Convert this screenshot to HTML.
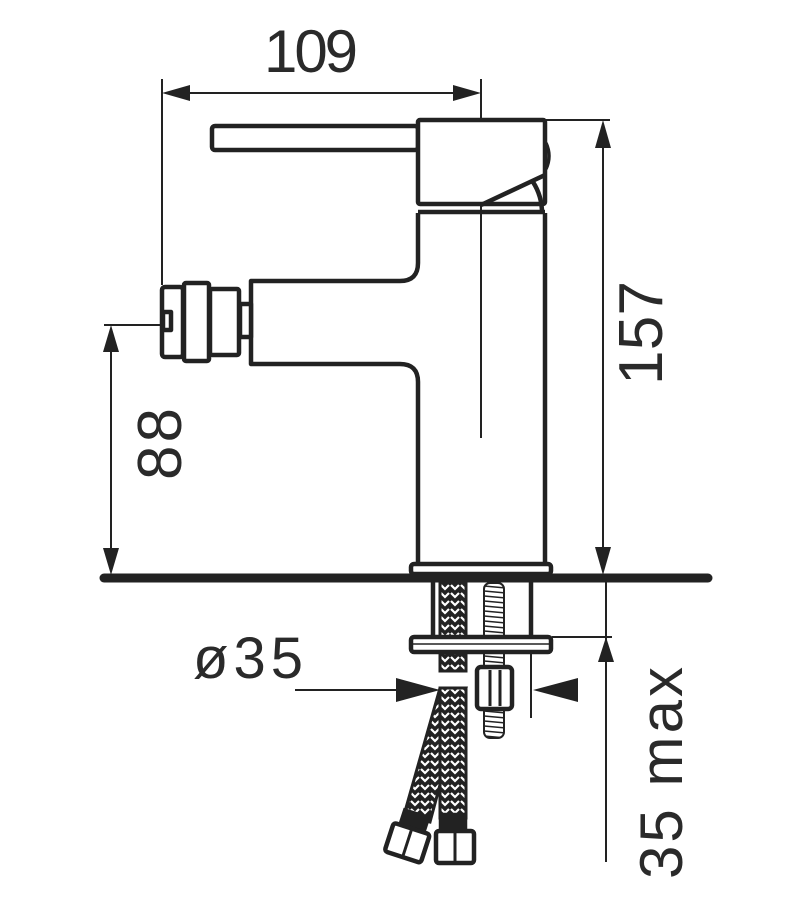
<!DOCTYPE html>
<html><head><meta charset="utf-8"><style>
html,body{margin:0;padding:0;background:#fff;}
svg{display:block;}
text{font-family:"Liberation Sans",sans-serif;fill:#2a2a2a;}
</style></head><body>
<svg width="812" height="904" viewBox="0 0 812 904" xmlns="http://www.w3.org/2000/svg">
<defs>
<pattern id="braid" width="10" height="8" patternUnits="userSpaceOnUse">
<rect width="10" height="8" fill="#222"/>
<path d="M1 1 L5 5 L9 1" stroke="#fff" stroke-width="2.2" fill="none"/>
</pattern>
<pattern id="thread" width="22" height="5" patternUnits="userSpaceOnUse">
<rect width="22" height="5" fill="#fff"/>
<path d="M0 1 L22 3" stroke="#222" stroke-width="1.6"/>
</pattern>
</defs>
<g stroke="#222" fill="none" stroke-width="2">
<line x1="162" y1="79" x2="162" y2="285"/>
<line x1="481" y1="79" x2="481" y2="438"/>
<line x1="170" y1="93" x2="472" y2="93"/>
<line x1="104" y1="325" x2="162" y2="325"/>
<line x1="111" y1="340" x2="111" y2="560"/>
<line x1="545" y1="120" x2="610" y2="120"/>
<line x1="603" y1="135" x2="603" y2="562"/>
<line x1="552" y1="637" x2="612" y2="637"/>
<line x1="606" y1="582" x2="606" y2="640"/>
<line x1="606" y1="660" x2="606" y2="862"/>
<line x1="295" y1="690" x2="410" y2="690"/>
<line x1="531" y1="590" x2="531" y2="718"/>
</g>
<g fill="#222">
<polygon points="162,93 190,85 190,101"/>
<polygon points="481,93 453,85 453,101"/>
<polygon points="111,325 103,352 119,352"/>
<polygon points="111,575 103,548 119,548"/>
<polygon points="603,120 595,148 611,148"/>
<polygon points="603,575 595,547 611,547"/>
<polygon points="606,637 598,662 614,662"/>
<polygon points="440,690 396,678 396,702"/>
<polygon points="533,690 578,678 578,702"/>
</g>
<g stroke="#222" fill="#fff" stroke-width="4.5" stroke-linejoin="round">
<rect x="212" y="126" width="206" height="24" rx="3"/>
<rect x="418" y="120" width="127" height="84" rx="2"/>
<path d="M546 143 Q552 156 546 169" fill="none" stroke-width="3.5"/>
<path d="M481 205 L545 175" fill="none"/>
<path d="M533 182 Q542 196 542 213" fill="none"/>
<line x1="418" y1="212" x2="545" y2="212"/>
<path d="M418 213 L418 263 Q418 281 400 281 L251 281 L251 364 L400 364 Q418 364 418 382 L418 562" fill="none"/>
<line x1="545" y1="213" x2="545" y2="562"/>
<rect x="240" y="304" width="11" height="33"/>
<rect x="210" y="289" width="29" height="66" rx="2"/>
<rect x="184" y="283" width="25" height="78" rx="2"/>
<rect x="162" y="287" width="21" height="70" rx="3"/>
<rect x="163" y="312" width="8" height="18"/>
<rect x="411" y="564" width="140" height="10" rx="3"/>
</g>
<line x1="104" y1="578" x2="708" y2="578" stroke="#222" stroke-width="9" stroke-linecap="round"/>
<g stroke="#222" stroke-width="4.5" fill="#fff">
<line x1="433" y1="582" x2="433" y2="637" />
<line x1="531" y1="582" x2="531" y2="637"/>
<rect x="484" y="583" width="20" height="155" rx="6" fill="url(#thread)" stroke-width="2"/>
<rect x="440" y="583" width="26" height="88" fill="url(#braid)" stroke-width="3"/>
<path d="M440 688 L466 688 L430 822 L404 815 Z" fill="url(#braid)" stroke-width="3"/>
<rect x="440" y="688" width="26" height="130" fill="url(#braid)" stroke-width="3"/>
<rect x="411" y="637" width="140" height="15" rx="3"/>
<line x1="413" y1="644" x2="549" y2="644" stroke-width="1.5"/>
<rect x="477" y="667" width="35" height="42" rx="4"/>
<line x1="490" y1="670" x2="490" y2="706" stroke-width="3"/>
<line x1="500" y1="670" x2="500" y2="706" stroke-width="3"/>
<rect x="441" y="815" width="24" height="15" fill="#222"/>
<rect x="436" y="831" width="38" height="32" rx="3"/>
<line x1="455" y1="833" x2="455" y2="861" stroke-width="3"/>
<g transform="rotate(18 405 840)">
<rect x="396" y="812" width="24" height="15" fill="#222"/>
<rect x="389" y="827" width="38" height="30" rx="3"/>
<line x1="408" y1="829" x2="408" y2="855" stroke-width="3"/>
</g>
</g>
<text x="311" y="72" font-size="60" text-anchor="middle" textLength="94">109</text>
<text x="248" y="678" font-size="58" text-anchor="middle" textLength="110">ø35</text>
<text transform="translate(181 444) rotate(-90)" font-size="62" text-anchor="middle" textLength="72">88</text>
<text transform="translate(662 333) rotate(-90)" font-size="62" text-anchor="middle" textLength="104">157</text>
<text transform="translate(682 773) rotate(-90)" font-size="60" text-anchor="middle" textLength="212">35 max</text>
</svg>
</body></html>
